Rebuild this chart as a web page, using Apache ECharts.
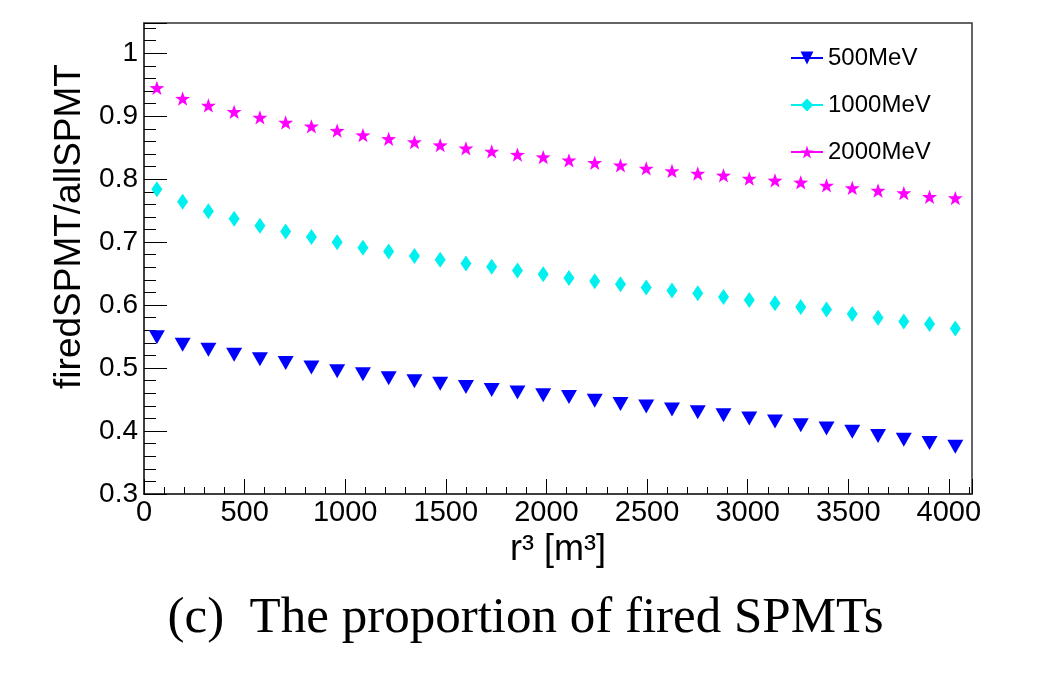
<!DOCTYPE html>
<html>
<head>
<meta charset="utf-8">
<title>fired SPMT</title>
<script src="https://cdn.jsdelivr.net/npm/echarts@6/dist/echarts.min.js"></script>
<style>
    html, body { margin: 0; padding: 0; background: #fff; }
    #main { width: 1051px; height: 695px; }
</style>
</head>
<body>
<div id="main"></div>
<script>
// r^3 bin centres [m^3]
var r3 = [64, 192, 320, 448, 576, 704, 832, 960, 1088, 1216, 1344, 1472, 1600, 1728, 1856, 1984,
    2112, 2240, 2368, 2496, 2624, 2752, 2880, 3008, 3136, 3264, 3392, 3520, 3648, 3776, 3904, 4032];
// firedSPMT/allSPMT
var e500 = [0.549, 0.537, 0.529, 0.521, 0.514, 0.508, 0.501, 0.495, 0.490, 0.484, 0.479, 0.475, 0.470, 0.465, 0.461, 0.457,
    0.454, 0.448, 0.443, 0.439, 0.434, 0.430, 0.425, 0.420, 0.415, 0.409, 0.404, 0.399, 0.392, 0.386, 0.381, 0.375];
var e1000 = [0.784, 0.764, 0.749, 0.737, 0.726, 0.717, 0.708, 0.700, 0.691, 0.685, 0.678, 0.672, 0.666, 0.661, 0.655, 0.649,
    0.643, 0.638, 0.633, 0.628, 0.623, 0.619, 0.613, 0.608, 0.603, 0.597, 0.593, 0.586, 0.580, 0.574, 0.570, 0.563];
var e2000 = [0.945, 0.928, 0.917, 0.907, 0.898, 0.890, 0.884, 0.877, 0.870, 0.864, 0.859, 0.854, 0.849, 0.844, 0.839, 0.835,
    0.830, 0.826, 0.822, 0.817, 0.813, 0.809, 0.806, 0.801, 0.798, 0.795, 0.790, 0.786, 0.782, 0.778, 0.772, 0.770];
var names = ['500MeV', '1000MeV', '2000MeV'];

var starPath = 'path://M0,-100 L23.5,-32.4 L95.1,-30.9 L38,12.4 L58.8,80.9 L0,40 L-58.8,80.9 L-38,12.4 L-95.1,-30.9 L-23.5,-32.4 Z';

function pairs(ys) {
    var out = [];
    for (var i = 0; i < r3.length; i++) {
        out.push([r3[i], ys[i]]);
    }
    return out;
}

function mkSeries(name, ys, color, symbol, size, rotate) {
    return {
        name: name,
        type: 'line',
        data: pairs(ys),
        symbol: symbol,
        symbolSize: size,
        symbolRotate: rotate || 0,
        symbolKeepAspect: true,
        showAllSymbol: true,
        itemStyle: { color: color },
        lineStyle: { color: color, opacity: 0 },
        emphasis: { disabled: true },
        animation: false
    };
}

var myChart = echarts.init(document.getElementById('main'));
var font = 'Liberation Sans, Arial, sans-serif';
var option = {
    title: {
        text: '(c)  The proportion of fired SPMTs',
        left: 'center',
        top: 588,
        textStyle: { fontFamily: 'Liberation Serif, Times New Roman, serif', fontSize: 51, fontWeight: 'normal', color: '#000' }
    },
    legend: {
        data: names,
        orient: 'vertical',
        left: 785,
        top: 41,
        itemWidth: 32,
        itemHeight: 16,
        itemGap: 23,
        lineStyle: { opacity: 1, width: 2 },
        textStyle: { fontFamily: font, fontSize: 24, color: '#000' }
    },
    grid: {
        left: 144,
        top: 23,
        right: 79,
        bottom: 201,
        show: true,
        borderColor: '#333',
        borderWidth: 1.5
    },
    xAxis: {
        type: 'value',
        min: 0,
        max: 4115,
        interval: 500,
        name: 'r\u00b3 [m\u00b3]',
        nameLocation: 'middle',
        nameGap: 36,
        nameTextStyle: { fontFamily: font, fontSize: 36, color: '#000' },
        axisLine: { show: true, lineStyle: { color: '#333', width: 1.5 } },
        axisTick: { show: true, inside: true, length: 15, lineStyle: { color: '#000' } },
        minorTick: { show: true, splitNumber: 5, length: 7, lineStyle: { color: '#000' } },
        axisLabel: {
            fontFamily: font, fontSize: 29, color: '#000', margin: 4, showMaxLabel: false,
            formatter: function (v) { return String(v); }
        },
        splitLine: { show: false }
    },
    yAxis: {
        type: 'value',
        min: 0.3,
        max: 1.048,
        interval: 0.1,
        name: 'firedSPMT/allSPMT',
        nameLocation: 'middle',
        nameGap: 53,
        nameTextStyle: { fontFamily: font, fontSize: 37, color: '#000', padding: [0, 0, 0, 64] },
        axisLine: { show: true, lineStyle: { color: '#333', width: 1.5 } },
        axisTick: { show: true, inside: true, length: 23, lineStyle: { color: '#000' } },
        minorTick: { show: true, splitNumber: 5, length: 12, lineStyle: { color: '#000' } },
        axisLabel: { fontFamily: font, fontSize: 28, color: '#000', margin: 6, showMaxLabel: false },
        splitLine: { show: false }
    },
    series: [
        mkSeries(names[0], e500, '#0000ff', 'triangle', [16, 14], 180),
        mkSeries(names[1], e1000, '#00f0f0', 'diamond', [11, 16]),
        mkSeries(names[2], e2000, '#ff00ff', starPath, 15)
    ]
};
myChart.setOption(option, true);
window.addEventListener('resize', function () {
    myChart.resize();
});
</script>
</body>
</html>
